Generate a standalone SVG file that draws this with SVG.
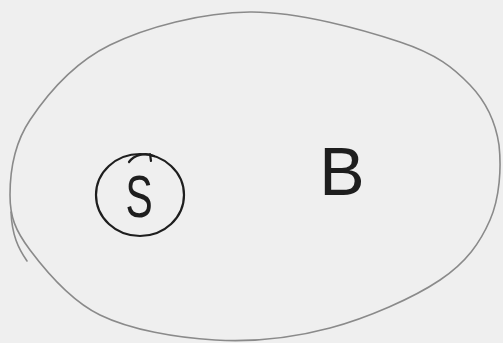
<svg xmlns="http://www.w3.org/2000/svg" width="503" height="343" viewBox="0 0 503 343">
<style>
.bg{fill:#efefef}
.outer{fill:none;stroke:#8a8a8a;stroke-width:1.6;stroke-linecap:round;stroke-linejoin:round}
.inner{fill:none;stroke:#1e1e1e;stroke-width:2.2;stroke-linecap:round}
.lbl{font-family:"Liberation Sans",Arial,sans-serif;fill:#1e1e1e}
</style>
<rect class="bg" x="0" y="0" width="503" height="343"/>
<g id="B">
<path class="outer" d="M250,12 C298.3,11.5 363.3,29.8 400,42 C436.7,54.2 453.5,67.8 470,85 C486.5,102.2 495.7,122.5 499,145 C501.5,167.5 499.8,197.5 490,220 C480.2,242.5 466.7,262 440,280 C413.3,298 367.5,318 330,328 C292.5,338 253.3,342.2 215,340 C176.7,337.8 130.8,330 100,315 C69.2,300 45,270 30,250 C15,230 10,216.7 10,195 C10,173.3 13.3,145 30,120 C46.7,95 73.3,63 110,45 C146.7,27 201.7,12.5 250,12 Z"/>
<path class="outer" d="M11,212 C12,235 18,248 27,261"/>
<text class="lbl" x="342" y="195" font-size="68" text-anchor="middle">B</text>
</g>
<g id="S">
<ellipse class="inner" cx="140" cy="195" rx="44" ry="41"/>
<path class="inner" stroke-width="1.6" d="M129,162 C134,155 145,152 154,156 M150,154 L151,161"/>
<text class="lbl" x="0" y="0" font-size="60" text-anchor="middle" transform="translate(139,217) scale(0.68,1)">S</text>
</g>
<g id="connectors"/>
</svg>
